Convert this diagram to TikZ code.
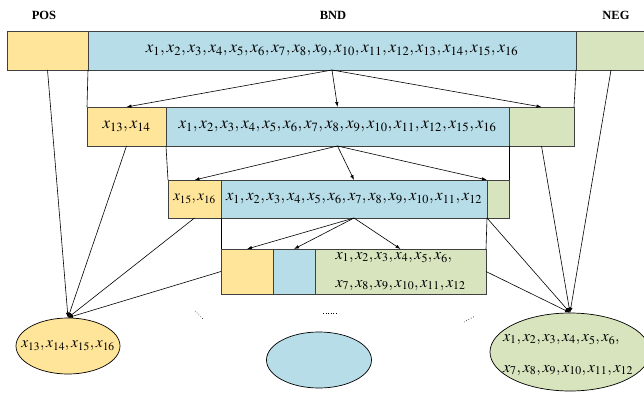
\documentclass[tikz,border=0pt]{standalone}
\usepackage{mathptmx}
\usepackage{fontspec}
\setmainfont{Liberation Serif}
\usetikzlibrary{positioning,shapes.geometric,arrows.meta}
\definecolor{posyellow}{HTML}{FFE599}
\definecolor{bndblue}{HTML}{B7DDE8}
\definecolor{neggreen}{HTML}{D7E4BD}
\begin{document}
\begin{tikzpicture}[x=1pt,y=-1pt,
  cell/.style={draw=black!75,line width=0.7pt,inner sep=0pt,outer sep=0pt,anchor=north west,
    font=\fontsize{17}{20}\selectfont},
  poscell/.style={cell,fill=posyellow},
  bndcell/.style={cell,fill=bndblue},
  negcell/.style={cell,fill=neggreen},
  head/.style={font=\fontsize{12.5}{14}\selectfont\bfseries},
  region/.style={ellipse,draw,line width=0.7pt,inner sep=0pt},
  inside/.style={align=left,inner sep=0pt},
  split/.style={-{Latex[length=5pt,width=3.5pt]},line width=0.6pt},
  link/.style={line width=0.6pt},
  gap/.style={dotted,line width=0.6pt}]
\useasboundingbox (0,0) rectangle (644,393);

% region labels
\node[head] (poslabel) at (44,15) {POS};
\node[head] (bndlabel) at (333,15) {BND};
\node[head] (neglabel) at (616,15) {NEG};

% first partition
\node[poscell,minimum width=81pt,minimum height=39pt] (pos1) at (7,31) {};
\node[bndcell,minimum width=488pt,minimum height=39pt,right=0pt of pos1] (bnd1)
  {$x_1,x_2,x_3,x_4,x_5,x_6,x_7,x_8,x_9,x_{10},x_{11},x_{12},x_{13},x_{14},x_{15},x_{16}$};
\node[negcell,minimum width=70pt,minimum height=39pt,right=0pt of bnd1] (neg1) {};

% second partition
\node[poscell,minimum width=79pt,minimum height=39pt] (pos2) at (87,107) {$x_{13},x_{14}$};
\node[bndcell,minimum width=343pt,minimum height=39pt,right=0pt of pos2] (bnd2)
  {$x_1,x_2,x_3,x_4,x_5,x_6,x_7,x_8,x_9,x_{10},x_{11},x_{12},x_{15},x_{16}$};
\node[negcell,minimum width=65pt,minimum height=39pt,right=0pt of bnd2] (neg2) {};

% third partition
\node[poscell,minimum width=53pt,minimum height=38pt,font=\fontsize{15}{18}\selectfont] (pos3)
  at (168,180) {$x_{15},x_{16}$};
\node[bndcell,minimum width=266pt,minimum height=38pt,right=0pt of pos3,
  font=\fontsize{16.5}{20}\selectfont] (bnd3)
  {$x_1,x_2,x_3,x_4,x_5,x_6,x_7,x_8,x_9,x_{10},x_{11},x_{12}$};
\node[negcell,minimum width=22pt,minimum height=38pt,right=0pt of bnd3] (neg3) {};

% fourth partition
\node[poscell,minimum width=52pt,minimum height=45pt] (pos4) at (221,249) {};
\node[bndcell,minimum width=42pt,minimum height=45pt,right=0pt of pos4] (bnd4) {};
\node[negcell,minimum width=171pt,minimum height=45pt,right=0pt of bnd4,align=left,
  font=\fontsize{16}{28}\selectfont] (neg4)
  {$x_1,x_2,x_3,x_4,x_5,x_6,$\\$x_7,x_8,x_9,x_{10},x_{11},x_{12}$};

% final regions
\node[region,fill=posyellow,minimum width=104pt,minimum height=56pt,
  label={[inside,font=\fontsize{15.5}{18}\selectfont]center:$x_{13},x_{14},x_{15},x_{16}$}]
  (posset) at (68,346) {};
\node[region,fill=bndblue,minimum width=105pt,minimum height=56pt] (bndset) at (319,360) {};
\node[region,fill=neggreen,minimum width=160pt,minimum height=78pt,
  label={[inside,font=\fontsize{16}{31}\selectfont,xshift=-2pt,yshift=-3pt]center:%
    $x_1,x_2,x_3,x_4,x_5,x_6,$\\$x_7,x_8,x_9,x_{10},x_{11},x_{12}$}]
  (negset) at (570,352) {};

% boundary carried down
\draw[link] (bnd1.south west) -- (pos2.north west);
\draw[link] (bnd1.south east) -- (neg2.north east);
\draw[link] (bnd2.south west) -- (pos3.north west);
\draw[link] (bnd2.south east) -- (neg3.north east);
\draw[link] (bnd3.south west) -- (pos4.north west);
\draw[link] (bnd3.south east) -- (neg4.north east);

% splitting
\foreach \t in {pos2,bnd2,neg2}
  \draw[split] (bnd1.south) -- (\t.north);
\draw[split] (bnd2.south) -- (pos3.north);
\draw[split] (bnd2.south) -- (bnd3.north);
\draw[split] (bnd2.south) -- (bnd3.north east);
\foreach \t in {pos4,bnd4,neg4}
  \draw[split] (bnd3.south) -- (\t.north);

% collecting
\draw[split] (pos1.south) -- (posset.north);
\draw[split] (pos2.south) -- (posset.north);
\draw[split] (pos3.south) -- (posset.north);
\draw[split] (pos4.west) -- (posset.north);
\draw[split] (neg1.south) -- (negset.north);
\draw[split] (neg2.south) -- (negset.north);
\draw[split] (neg3.south west) -- (negset.north);
\draw[split] (neg4.east) -- (negset.north);

% more steps
\draw[gap] (195,311) -- (203,319);
\draw[gap] (323,313) -- (337,313);
\draw[gap] (464,322) -- (475,316);
\end{tikzpicture}
\end{document}
